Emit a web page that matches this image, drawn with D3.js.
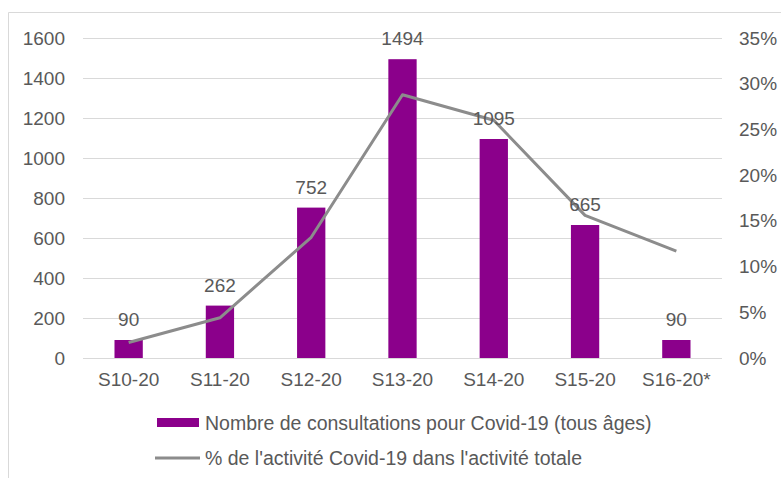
<!DOCTYPE html>
<html>
<head>
<meta charset="utf-8">
<script src="https://d3js.org/d3.v7.min.js"></script>
<style>
  body { margin: 0; background: #fff; }
  svg { font-family: "Liberation Sans", Arial, sans-serif; }
</style>
</head>
<body>
<svg width="781" height="478" id="chart1"></svg>
<script>
  // data
  var weeks = ["S10-20", "S11-20", "S12-20", "S13-20", "S14-20", "S15-20", "S16-20*"];
  var consultations = [90, 262, 752, 1494, 1095, 665, 90];
  var pctActivity = [0.017, 0.044, 0.132, 0.288, 0.260, 0.156, 0.117];
  var leftTicks = [0, 200, 400, 600, 800, 1000, 1200, 1400, 1600];
  var rightTicks = [0, 0.05, 0.10, 0.15, 0.20, 0.25, 0.30, 0.35];
  var legendLabels = ["Nombre de consultations pour Covid-19 (tous âges)",
                      "% de l'activité Covid-19 dans l'activité totale"];

  var margin = {top: 38, left: 83, right: 59, bottom: 120};
  var width = 781 - margin.left - margin.right,
      height = 478 - margin.top - margin.bottom;

  var textColor = "#595959";
  var barColor = "#8b008b";
  var lineColor = "#8c8c8c";
  var fontSize = "19px";

  var svg = d3.select("#chart1");

  // light frame around the chart area
  svg.append("path")
    .attr("d", "M8.5,478 V12.5 H781")
    .attr("fill", "none")
    .attr("stroke", "#d9d9d9");

  var g = svg.append("g")
    .attr("transform", "translate(" + margin.left + "," + margin.top + ")");

  var x = d3.scaleBand().domain(weeks).range([0, width]).paddingInner(0.69).paddingOuter(0.345);
  var y = d3.scaleLinear().domain([0, 1600]).range([height, 0]);
  var y2 = d3.scaleLinear().domain([0, 0.35]).range([height, 0]);

  // gridlines
  g.append("g")
    .selectAll("line").data(leftTicks).enter()
    .append("line")
      .attr("x1", 0).attr("x2", width)
      .attr("y1", function(d) { return y(d) + 0.5; })
      .attr("y2", function(d) { return y(d) + 0.5; })
      .attr("stroke", "#d9d9d9")
      .attr("stroke-width", 1);

  // left axis
  var yAxis = g.append("g")
    .call(d3.axisLeft(y).tickValues(leftTicks).tickSize(0).tickPadding(18)
      .tickFormat(d3.format("d")));
  yAxis.select(".domain").remove();
  yAxis.selectAll("text").attr("fill", textColor).style("font-size", fontSize);

  // right axis
  var yAxis2 = g.append("g")
    .attr("transform", "translate(" + width + ",0)")
    .call(d3.axisRight(y2).tickValues(rightTicks).tickSize(0).tickPadding(17)
      .tickFormat(d3.format(".0%")));
  yAxis2.select(".domain").remove();
  yAxis2.selectAll("text").attr("fill", textColor).style("font-size", fontSize);

  // x axis
  var xAxis = g.append("g")
    .attr("transform", "translate(0," + height + ")")
    .call(d3.axisBottom(x).tickSize(0).tickPadding(15));
  xAxis.select(".domain").remove();
  xAxis.selectAll("text").attr("fill", textColor).style("font-size", fontSize);

  // bars
  g.append("g")
    .selectAll("rect").data(consultations).enter()
    .append("rect")
      .attr("x", function(d, i) { return x(weeks[i]); })
      .attr("y", function(d) { return y(d); })
      .attr("width", x.bandwidth())
      .attr("height", function(d) { return height - y(d); })
      .attr("fill", barColor);

  // percentage line
  g.append("path")
    .datum(pctActivity)
    .attr("fill", "none")
    .attr("stroke", lineColor)
    .attr("stroke-width", 3)
    .attr("stroke-linejoin", "round")
    .attr("d", d3.line()
      .x(function(d, i) { return x(weeks[i]) + x.bandwidth() / 2; })
      .y(function(d) { return y2(d); }));

  // bar value labels
  g.append("g")
    .selectAll("text").data(consultations).enter()
    .append("text")
      .attr("x", function(d, i) { return x(weeks[i]) + x.bandwidth() / 2; })
      .attr("y", function(d) { return y(d) - 14; })
      .attr("text-anchor", "middle")
      .attr("fill", textColor)
      .style("font-size", fontSize)
      .text(function(d) { return d; });

  // legend
  var legend = svg.append("g");
  legend.append("rect")
    .attr("x", 157).attr("y", 418)
    .attr("width", 42).attr("height", 9)
    .attr("fill", barColor);
  legend.append("text")
    .attr("x", 205).attr("y", 430)
    .attr("fill", textColor)
    .style("font-size", "19.5px")
    .text(legendLabels[0]);
  legend.append("line")
    .attr("x1", 155).attr("x2", 200)
    .attr("y1", 458).attr("y2", 458)
    .attr("stroke", lineColor)
    .attr("stroke-width", 3);
  legend.append("text")
    .attr("x", 205).attr("y", 465)
    .attr("fill", textColor)
    .style("font-size", "19.5px")
    .text(legendLabels[1]);
</script>
</body>
</html>
